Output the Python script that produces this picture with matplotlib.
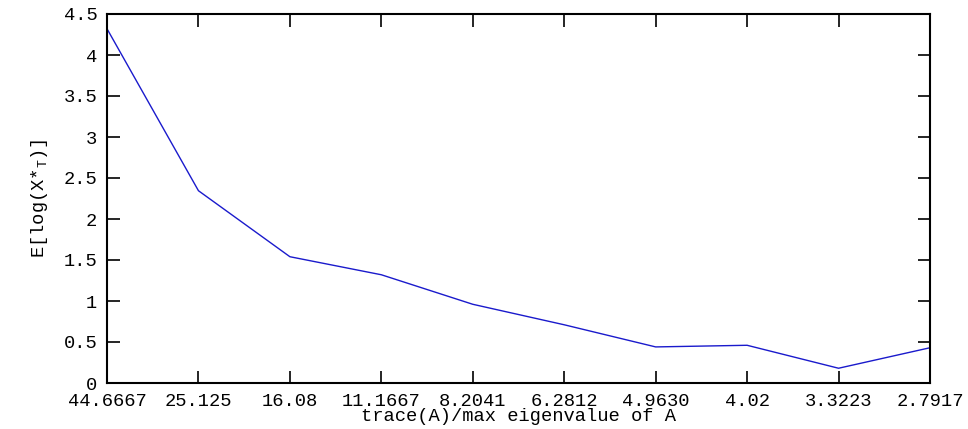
import matplotlib
matplotlib.use("Agg")
import matplotlib.pyplot as plt

x_labels = ["44.6667", "25.125", "16.08", "11.1667", "8.2041",
            "6.2812", "4.9630", "4.02", "3.3223", "2.7917"]
y_values = [4.32, 2.345, 1.54, 1.32, 0.96, 0.71, 0.44, 0.46, 0.18, 0.43]
y_ticks = [0, 0.5, 1, 1.5, 2, 2.5, 3, 3.5, 4, 4.5]
y_tick_labels = ["0", "0.5", "1", "1.5", "2", "2.5", "3", "3.5", "4", "4.5"]

plt.rcParams['font.family'] = ['Liberation Mono', 'DejaVu Sans Mono']
plt.rcParams['mathtext.fontset'] = 'custom'
plt.rcParams['mathtext.rm'] = 'Liberation Mono'
plt.rcParams['mathtext.it'] = 'Liberation Mono'

fs = 13.5
fig = plt.figure(figsize=(9.68, 4.29), dpi=100)
ax = fig.add_axes([107/968, 1 - 383/429, (930 - 107)/968, (383 - 14)/429])

xs = list(range(1, len(y_values) + 1))
ax.plot(xs, y_values, color='#1a1acc', linewidth=1.0)

ax.set_xlim(1, len(y_values))
ax.set_ylim(0, 4.5)
ax.set_xticks(xs)
ax.set_xticklabels(x_labels, fontsize=fs)
ax.set_yticks(y_ticks)
ax.set_yticklabels(y_tick_labels, fontsize=fs)
ax.tick_params(direction='in', length=9, width=1.2, top=True, right=True,
               colors='black')
ax.tick_params(axis='x', pad=7)
ax.tick_params(axis='y', pad=7)
for s in ax.spines.values():
    s.set_linewidth(1.5)

ax.set_xlabel("trace(A)/max eigenvalue of A", fontsize=fs, labelpad=-1)
ax.set_ylabel(r"E[log(X*$_\mathrm{T}$)]", fontsize=fs, labelpad=10)

fig.savefig("out.png", dpi=100)
